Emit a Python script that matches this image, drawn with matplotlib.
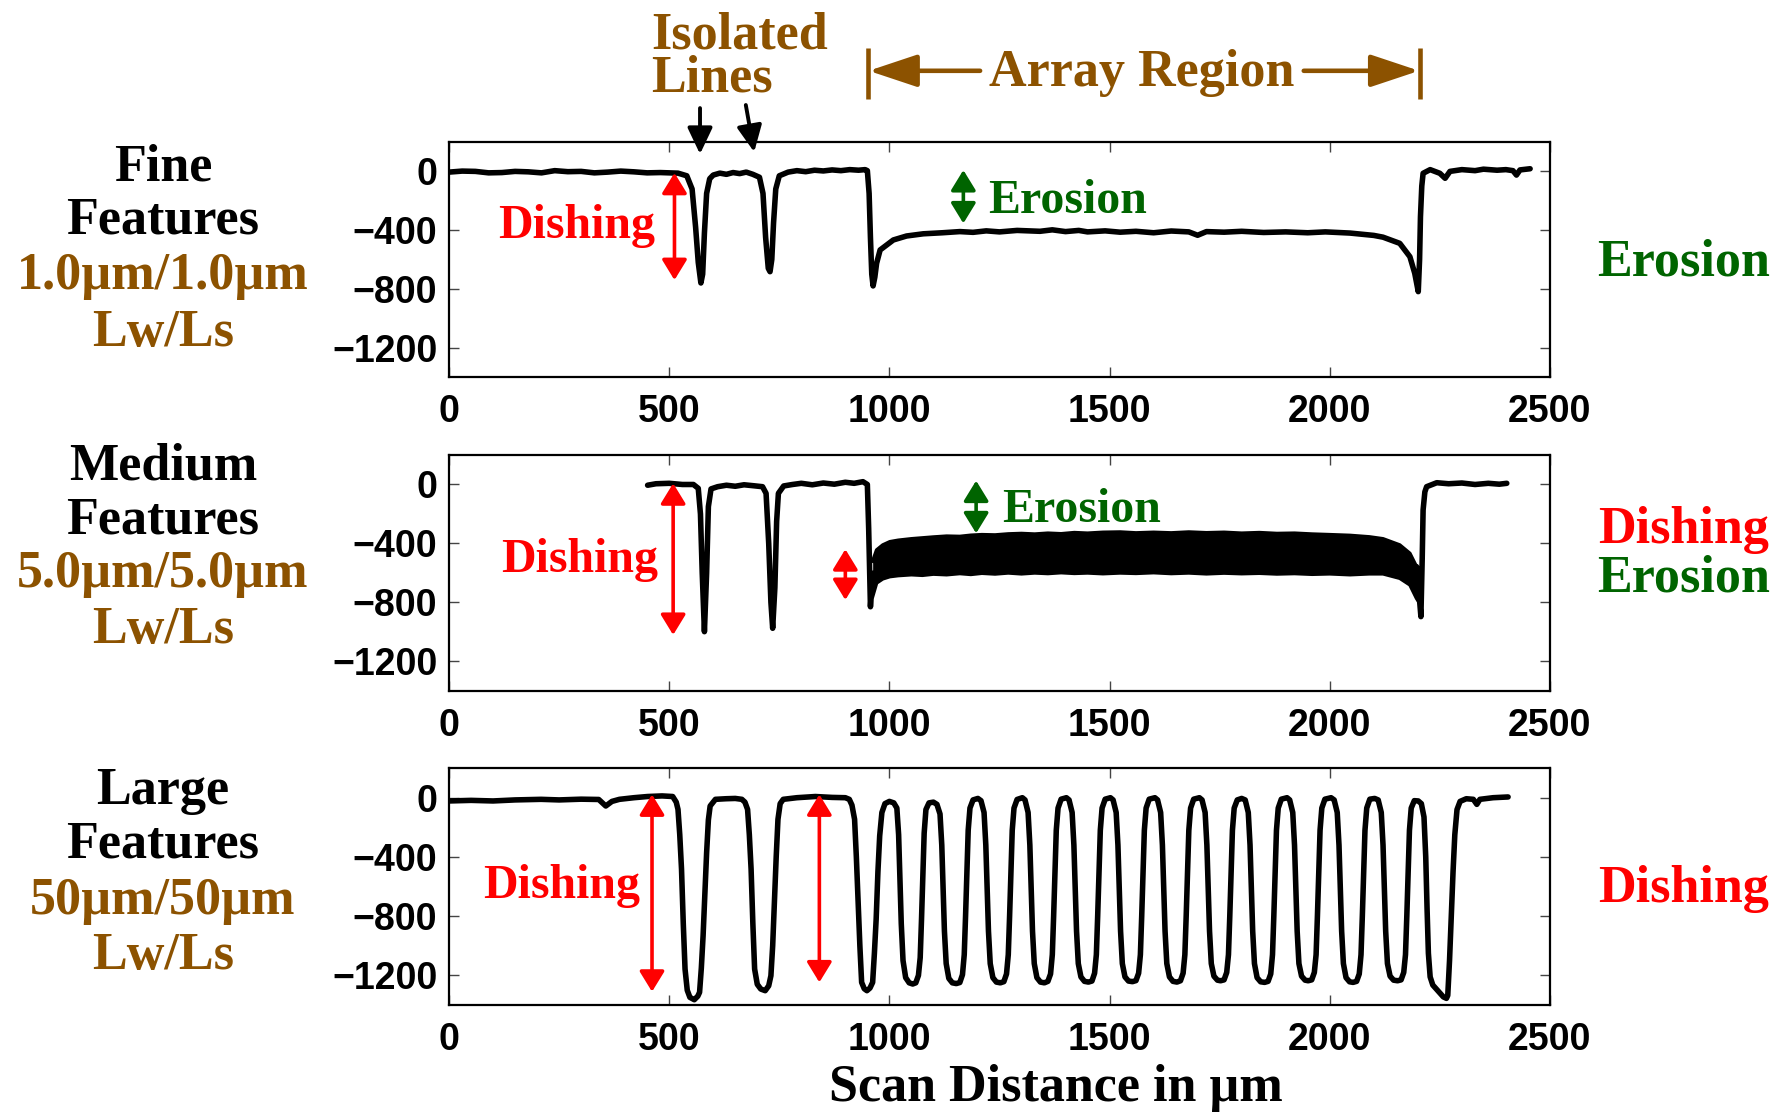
import matplotlib
matplotlib.use("Agg")
import matplotlib.pyplot as plt

# ---------------- data ----------------
xticks = [0, 500, 1000, 1500, 2000, 2500]
yticks = [0, -400, -800, -1200]

# Fine features (1.0um / 1.0um)
fine_x = [0, 30, 60, 90, 120, 150, 180, 210, 240, 270, 300, 330, 360, 390, 420, 450, 480, 520, 540,
          552, 560, 566, 572, 576, 580, 585, 592, 600, 615, 630, 645, 660, 675, 690, 705, 713, 719,
          725, 729, 733, 737, 742, 750, 770, 790, 810, 830, 850, 870, 890, 910, 930, 945,
          950, 954, 957, 960, 963, 967, 971, 979, 994, 1009, 1039, 1077, 1120, 1160, 1190, 1220, 1250,
          1290, 1342, 1370, 1400, 1430, 1450, 1490, 1524, 1560, 1600, 1640, 1680, 1700, 1720, 1760,
          1800, 1850, 1900, 1950, 1990, 2046, 2100, 2121, 2159, 2182, 2193,
          2201, 2204, 2206, 2209, 2212, 2228, 2250, 2262, 2273, 2300, 2330, 2349, 2380, 2400, 2416,
          2424, 2432, 2455]
fine_y = [-5, 2, 0, -10, -8, 0, -3, -10, 5, -2, 0, -10, -5, 2, -3, -10, -8, -12, -30,
          -120, -380, -620, -760, -700, -420, -150, -50, -25, -12, -20, -8, -15, -5, -20, -40, -150, -450,
          -660, -683, -600, -350, -120, -30, -5, 5, -2, 8, 3, 10, 5, 12, 8, 12,
          5, -150, -450, -700, -780, -720, -626, -535, -501, -467, -440, -425, -418, -410, -415, -405, -412,
          -402, -408, -398, -410, -402, -412, -405, -414, -408, -418, -406, -412, -435, -410, -414,
          -408, -416, -412, -418, -412, -420, -436, -448, -490, -581, -694,
          -819, -600, -309, -100, -13, 12, -13, -47, 0, 12, 5, 15, 8, 12, 5,
          -25, 10, 18]

# Medium features (5.0um / 5.0um): isolated part, array band, right part
med_left_x = [451, 470, 500, 530, 555, 566, 571, 575, 580, 585, 589, 595, 610, 630, 650, 670, 690, 712,
              720, 726, 731, 735, 740, 744, 748, 760, 780, 800, 825, 850, 875, 900, 920, 940, 950,
              953, 957, 961, 965]
med_left_y = [-5, 5, 8, 0, 0, -26, -200, -600, -998, -600, -150, -30, -15, -5, -12, -2, -8, -15,
              -60, -400, -800, -975, -700, -250, -60, -10, 0, 8, -2, 10, 2, 15, 8, 19, 0,
              -300, -829, -650, -600]
band_x = [962, 971, 985, 1001, 1020, 1050, 1075, 1100, 1130, 1160, 1185, 1210, 1240, 1270, 1300,
          1330, 1360, 1390, 1420, 1450, 1485, 1524, 1560, 1600, 1640, 1680, 1720, 1760, 1800, 1840,
          1880, 1920, 1960, 2000, 2046, 2090, 2121, 2159, 2182, 2197, 2203]
band_top = [-520, -444, -410, -388, -378, -368, -362, -356, -350, -352, -344, -340, -342, -335, -332,
            -336, -330, -334, -326, -330, -324, -322, -328, -324, -328, -322, -327, -324, -330, -326,
            -332, -330, -336, -340, -345, -355, -368, -410, -467, -557, -600]
band_bot = [-760, -668, -640, -625, -618, -612, -616, -608, -612, -604, -610, -602, -607, -600, -606,
            -600, -604, -598, -603, -600, -605, -600, -603, -598, -604, -600, -606, -601, -605, -602,
            -607, -604, -609, -606, -612, -606, -606, -636, -681, -772, -800]
med_right_x = [2197, 2203, 2207, 2210, 2212, 2216, 2220, 2243, 2270, 2300, 2330, 2360, 2385, 2402]
med_right_y = [-557, -750, -896, -500, -173, -50, -15, 12, 5, 10, 0, 8, 2, 8]

# Large features (50um / 50um)
large_x = [0, 50, 100, 150, 209, 250, 300, 340, 356, 370, 387, 420, 451, 484, 508,
           516, 520, 524, 528, 532, 536, 541, 547, 557, 565, 569, 573, 577, 581, 585, 589, 593, 605,
           629, 650, 665, 672, 678, 682, 686, 690, 694, 700, 708, 718, 726, 731, 735, 739, 743, 747,
           752, 759, 790, 832, 870, 900, 909, 915, 921, 925, 929, 933, 937, 943, 949, 956, 962, 966,
           970, 974, 978, 983, 990, 1000,
           1010, 1017, 1021, 1024, 1027, 1031, 1037, 1045, 1053, 1060, 1066, 1070, 1073, 1076, 1079, 1083, 1090, 1100,
           1108, 1115, 1119, 1122, 1125, 1129, 1135, 1143, 1152, 1160, 1166, 1170, 1173, 1176, 1179, 1183, 1190, 1201,
           1208, 1215, 1219, 1222, 1225, 1229, 1235, 1243, 1252, 1260, 1266, 1270, 1273, 1276, 1279, 1283, 1290, 1302,
           1308, 1315, 1319, 1322, 1325, 1329, 1335, 1343, 1352, 1360, 1366, 1370, 1373, 1376, 1379, 1383, 1390, 1402,
           1408, 1415, 1419, 1422, 1425, 1429, 1435, 1443, 1452, 1460, 1466, 1470, 1473, 1476, 1479, 1483, 1490, 1502,
           1508, 1515, 1519, 1522, 1525, 1529, 1535, 1543, 1552, 1560, 1566, 1570, 1573, 1576, 1579, 1583, 1590, 1603,
           1609, 1616, 1620, 1623, 1626, 1630, 1636, 1644, 1653, 1661, 1667, 1671, 1674, 1677, 1680, 1684, 1691, 1704,
           1710, 1717, 1721, 1724, 1727, 1731, 1737, 1745, 1752, 1760, 1766, 1770, 1773, 1776, 1779, 1783, 1790, 1800,
           1808, 1815, 1819, 1822, 1825, 1829, 1835, 1843, 1852, 1860, 1866, 1870, 1873, 1876, 1879, 1883, 1890, 1903,
           1909, 1916, 1920, 1923, 1926, 1930, 1936, 1944, 1951, 1959, 1965, 1969, 1972, 1975, 1978, 1982, 1989, 2003,
           2010, 2017, 2021, 2024, 2027, 2031, 2037, 2045, 2053, 2061, 2067, 2071, 2074, 2077, 2080, 2084, 2091, 2102,
           2110, 2117, 2121, 2124, 2127, 2131, 2137, 2145, 2154, 2162, 2168, 2172, 2175, 2178, 2181, 2185, 2192, 2201,
           2208, 2214, 2218, 2221, 2224, 2228, 2234, 2242, 2250, 2258, 2265, 2268, 2272, 2276, 2280, 2284, 2289, 2296,
           2310, 2326, 2334, 2341, 2371, 2405]
large_y = [-22, -18, -22, -15, -11, -15, -10, -12, -56, -25, -11, 0, 8, 12, 8,
           -30, -79, -250, -483, -850, -1157, -1300, -1348, -1364, -1340, -1314, -1150, -932, -650, -371, -150, -56, -11,
           -7, -5, -11, -30, -79, -250, -483, -850, -1157, -1260, -1292, -1303, -1270, -1202, -1000, -708, -400, -146,
           -40, -11, 0, 8, 2, 0, -11, -50, -146, -400, -708, -1000, -1247, -1290, -1303, -1285, -1247, -1050,
           -820, -500, -258, -100, -40, -25,
           -35, -70, -250, -550, -850, -1100, -1215, -1250, -1258, -1250, -1200, -1080, -820, -520, -240, -80, -35, -30,
           -45, -110, -320, -620, -900, -1120, -1220, -1250, -1255, -1248, -1195, -1060, -800, -500, -220, -70, -15, -5,
           -20, -100, -320, -620, -900, -1120, -1215, -1245, -1250, -1242, -1190, -1060, -800, -500, -220, -70, -12, 0,
           -15, -100, -320, -620, -900, -1120, -1215, -1245, -1250, -1240, -1190, -1060, -800, -500, -220, -70, -10, 0,
           -15, -100, -320, -620, -900, -1120, -1210, -1240, -1245, -1238, -1185, -1060, -800, -500, -220, -70, -10, 0,
           -15, -100, -320, -620, -900, -1120, -1210, -1238, -1242, -1235, -1185, -1060, -800, -500, -220, -70, -10, 0,
           -15, -100, -320, -620, -900, -1120, -1210, -1240, -1245, -1236, -1185, -1060, -800, -500, -220, -70, -10, 0,
           -15, -100, -320, -620, -900, -1120, -1205, -1232, -1236, -1230, -1180, -1060, -800, -500, -220, -70, -15, -5,
           -15, -100, -320, -620, -900, -1120, -1215, -1243, -1247, -1240, -1190, -1060, -800, -500, -220, -70, -10, 0,
           -15, -100, -320, -620, -900, -1120, -1205, -1232, -1236, -1230, -1180, -1060, -800, -500, -220, -70, -10, 0,
           -15, -100, -320, -620, -900, -1120, -1215, -1243, -1247, -1240, -1190, -1060, -800, -500, -220, -70, -10, -5,
           -15, -100, -320, -620, -900, -1120, -1205, -1232, -1236, -1230, -1180, -1060, -800, -500, -220, -70, -20, -22,
           -40, -130, -400, -750, -1050, -1210, -1265, -1292, -1318, -1345, -1355, -1335, -1100, -800, -500, -250, -80, -25,
           -7, -11, -45, -11, 0, 5]

# ---------------- style ----------------
BROWN = '#8C5200'
GREEN = '#006400'
RED = '#FF0000'
SERIF = 'Liberation Serif'
SANS = 'Liberation Sans'
BIG = 37.5
MID = 34.5

fig = plt.figure(figsize=(17.91, 11.13), dpi=100)
rects = [[0.2507, 0.6613, 0.6147, 0.2111],
         [0.2507, 0.3792, 0.6147, 0.2120],
         [0.2507, 0.0970, 0.6147, 0.2129]]
axes = [fig.add_axes(r) for r in rects]

for ax in axes:
    ax.set_xlim(0, 2500)
    ax.set_ylim(-1400, 200)
    ax.set_xticks(xticks)
    ax.set_yticks(yticks)
    ax.tick_params(direction='in', length=7, width=1.0, color='#444444',
                   top=True, right=True, labelsize=27)
    ax.tick_params(axis='y', pad=8.5)
    ax.tick_params(axis='x', pad=12.5)
    for lab in ax.get_xticklabels() + ax.get_yticklabels():
        lab.set_fontfamily(SANS)
        lab.set_fontweight('bold')
    for s in ax.spines.values():
        s.set_linewidth(1.6)

LW = 4.0
ax1, ax2, ax3 = axes
ax1.plot(fine_x, fine_y, color='k', lw=LW, solid_joinstyle='round', solid_capstyle='round')
ax2.plot(med_left_x, med_left_y, color='k', lw=LW, solid_joinstyle='round', solid_capstyle='round')
ax2.fill_between(band_x, band_bot, band_top, color='k', lw=0)
ax2.plot(band_x, band_top, color='k', lw=2.5)
ax2.plot(band_x, band_bot, color='k', lw=2.5)
ax2.plot(med_right_x, med_right_y, color='k', lw=LW, solid_joinstyle='round', solid_capstyle='round')
ax3.plot(large_x, large_y, color='k', lw=LW, solid_joinstyle='round', solid_capstyle='round')


def darrow(ax, x, y0, y1, color):
    ax.annotate('', xy=(x, y1), xytext=(x, y0),
                arrowprops=dict(arrowstyle='<|-|>,head_length=0.62,head_width=0.38',
                                mutation_scale=20, lw=2.6, color=color,
                                shrinkA=0, shrinkB=0), annotation_clip=False)


def tx(ax, x, y, s, color, size=MID, ha='left'):
    ax.text(x, y, s, color=color, fontsize=size, fontweight='bold', family=SERIF,
            ha=ha, va='baseline', clip_on=False)


# top panel annotations
darrow(ax1, 512, -10, -740, RED)
tx(ax1, 468, -455, 'Dishing', RED, ha='right')
darrow(ax1, 1168, 9, -354, GREEN)
tx(ax1, 1225, -281, 'Erosion', GREEN)

# middle panel annotations
darrow(ax2, 509, 8, -1020, RED)
darrow(ax2, 900, -439, -783, RED)
tx(ax2, 474, -595, 'Dishing', RED, ha='right')
darrow(ax2, 1197, 26, -331, GREEN)
tx(ax2, 1255, -252, 'Erosion', GREEN)

# bottom panel annotations
darrow(ax3, 461, 22, -1310, RED)
darrow(ax3, 841, 22, -1247, RED)
tx(ax3, 435, -674, 'Dishing', RED, ha='right')

# isolated lines & array region (above the top axes)
tx(ax1, 459, 840, 'Isolated', BROWN, size=BIG)
tx(ax1, 459, 545, 'Lines', BROWN, size=BIG)
for (xa, ya, xb, yb) in [(570, 431, 570, 118), (674, 452, 693, 132)]:
    ax1.annotate('', xy=(xb, yb), xytext=(xa, ya),
                 arrowprops=dict(arrowstyle='-|>,head_length=0.8,head_width=0.38',
                                 mutation_scale=20, lw=2.8, color='k',
                                 shrinkA=0, shrinkB=0), annotation_clip=False)

ax1.text(1573, 583, 'Array Region', color=BROWN, fontsize=BIG, fontweight='bold',
         family=SERIF, ha='center', va='baseline', clip_on=False)
for xb in (951, 2205):
    ax1.plot([xb, xb], [490, 840], color=BROWN, lw=3.3, clip_on=False,
             solid_capstyle='butt')
for (xa, xb) in [(1206, 953), (1941, 2203)]:
    ax1.annotate('', xy=(xb, 685), xytext=(xa, 685),
                 arrowprops=dict(arrowstyle='-|>,head_length=1.5,head_width=0.5',
                                 mutation_scale=20, lw=3.3, color=BROWN,
                                 shrinkA=0, shrinkB=0), annotation_clip=False)

# left labels
W, H = 1791.0, 1113.0
left_labels = [
    ('Fine', 'k', 180.5), ('Features', 'k', 234), ('1.0\u00b5m/1.0\u00b5m', BROWN, 289), ('Lw/Ls', BROWN, 346),
    ('Medium', 'k', 480), ('Features', 'k', 533), ('5.0\u00b5m/5.0\u00b5m', BROWN, 587), ('Lw/Ls', BROWN, 643),
    ('Large', 'k', 804), ('Features', 'k', 858), ('50\u00b5m/50\u00b5m', BROWN, 914), ('Lw/Ls', BROWN, 969),
]
for s, c, yb in left_labels:
    fig.text(163 / W, 1 - yb / H, s, color=c, fontsize=BIG, fontweight='bold', family=SERIF,
             ha='center', va='baseline')

right_labels = [('Erosion', GREEN, 275), ('Dishing', RED, 542.5), ('Erosion', GREEN, 591.7),
                ('Dishing', RED, 902)]
for s, c, yb in right_labels:
    fig.text(1684 / W, 1 - yb / H, s, color=c, fontsize=BIG, fontweight='bold', family=SERIF,
             ha='center', va='baseline')

fig.text(1056 / W, 1 - 1101 / H, 'Scan Distance in \u00b5m', color='k', fontsize=BIG,
         fontweight='bold', family=SERIF, ha='center', va='baseline')

fig.savefig('out.png', dpi=100)
